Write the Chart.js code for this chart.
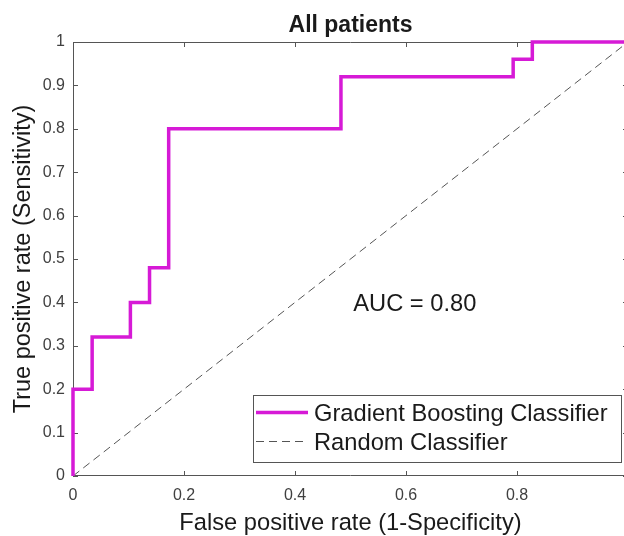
<!DOCTYPE html>
<html>
<head>
<meta charset="utf-8">
<script src="https://cdn.jsdelivr.net/npm/chart.js@4/dist/chart.umd.min.js"></script>
<style>
  html, body { margin: 0; padding: 0; background: #fff; overflow: hidden; }
  #wrap { width: 630px; height: 536px; }
</style>
</head>
<body>
<div id="wrap"><canvas id="c" width="630" height="536"></canvas></div>
<script>
// ---- data ----
const chartTitle = 'All patients';
const xTitle = 'False positive rate (1-Specificity)';
const yTitle = 'True positive rate (Sensitivity)';
const rocLabel = 'Gradient Boosting Classifier';
const randLabel = 'Random Classifier';
const aucText = 'AUC = 0.80';
const aucPos = [0.505, 0.395];
const rocFPR = [0, 0, 0.0345, 0.0345, 0.1034, 0.1034, 0.1379, 0.1379, 0.1724, 0.1724, 0.4828, 0.4828, 0.7931, 0.7931, 0.8276, 0.8276, 1];
const rocTPR = [0, 0.2, 0.2, 0.32, 0.32, 0.4, 0.4, 0.48, 0.48, 0.8, 0.8, 0.92, 0.92, 0.96, 0.96, 1, 1];
const randFPR = [0, 1];
const randTPR = [0, 1];
const xTicks = [0, 0.2, 0.4, 0.6, 0.8, 1];
const yTicks = [0, 0.1, 0.2, 0.3, 0.4, 0.5, 0.6, 0.7, 0.8, 0.9, 1];

// ---- styles ----
const FONT = "'Liberation Sans', Arial, Helvetica, sans-serif";
const MAGENTA = '#d61ad6';
const AXIS = '#555555';
const TEXT = '#1a1a1a';

const toPts = (xs, ys) => xs.map((x, i) => ({ x: x, y: ys[i] }));

const decorPlugin = {
  id: 'decor',
  beforeDatasetsDraw(chart) {
    const { ctx, chartArea: a, scales } = chart;
    const xs = scales.x, ys = scales.y;
    ctx.save();
    ctx.strokeStyle = AXIS;
    ctx.lineWidth = 1;
    ctx.beginPath();
    ctx.rect(a.left + 0.5, a.top + 0.5, a.right - a.left - 1, a.bottom - a.top - 1);
    ctx.stroke();
    const tl = 5;
    ctx.beginPath();
    xTicks.forEach(v => {
      const px = Math.round(xs.getPixelForValue(v)) + 0.5;
      ctx.moveTo(px, a.bottom); ctx.lineTo(px, a.bottom - tl);
      ctx.moveTo(px, a.top); ctx.lineTo(px, a.top + tl);
    });
    yTicks.forEach(v => {
      const py = Math.round(ys.getPixelForValue(v)) + 0.5;
      ctx.moveTo(a.left, py); ctx.lineTo(a.left + tl, py);
      ctx.moveTo(a.right, py); ctx.lineTo(a.right - tl, py);
    });
    ctx.stroke();
    ctx.restore();
  },
  afterDatasetsDraw(chart) {
    const { ctx, chartArea: a, scales } = chart;
    const xs = scales.x, ys = scales.y;
    ctx.save();
    // title
    ctx.fillStyle = TEXT;
    ctx.font = 'bold 23px ' + FONT;
    ctx.textAlign = 'center';
    ctx.textBaseline = 'middle';
    ctx.fillText(chartTitle, (a.left + a.right) / 2, a.top - 16);
    // AUC annotation
    ctx.font = '23.7px ' + FONT;
    ctx.textAlign = 'left';
    ctx.fillText(aucText, xs.getPixelForValue(aucPos[0]), ys.getPixelForValue(aucPos[1]));
    // legend
    const lx = 253, ly = 395, lw = 369, lh = 68;
    ctx.fillStyle = '#ffffff';
    ctx.fillRect(lx, ly, lw, lh);
    ctx.strokeStyle = AXIS;
    ctx.lineWidth = 1;
    ctx.strokeRect(lx + 0.5, ly + 0.5, lw - 1, lh - 1);
    const dsets = chart.data.datasets;
    const rows = [ly + 19, ly + 48];
    dsets.forEach((d, i) => {
      const y = rows[i];
      ctx.beginPath();
      ctx.strokeStyle = d.borderColor;
      ctx.lineWidth = d.borderWidth;
      ctx.setLineDash(d.borderDash || []);
      ctx.moveTo(lx + 3, y - 1.5); ctx.lineTo(lx + 55, y - 1.5);
      ctx.stroke();
      ctx.setLineDash([]);
      ctx.fillStyle = TEXT;
      ctx.font = '23.7px ' + FONT;
      ctx.textAlign = 'left';
      ctx.textBaseline = 'middle';
      ctx.fillText(d.label, lx + 61, y);
    });
    ctx.restore();
  }
};

new Chart(document.getElementById('c'), {
  type: 'scatter',
  data: {
    datasets: [
      {
        label: rocLabel,
        data: toPts(rocFPR, rocTPR),
        showLine: true,
        borderColor: MAGENTA,
        backgroundColor: MAGENTA,
        borderWidth: 3.5,
        pointRadius: 0,
        tension: 0,
        fill: false,
        clip: 6
      },
      {
        label: randLabel,
        data: toPts(randFPR, randTPR),
        showLine: true,
        borderColor: '#555555',
        backgroundColor: '#555555',
        borderWidth: 1,
        borderDash: [8, 5],
        pointRadius: 0,
        fill: false
      }
    ]
  },
  options: {
    responsive: false,
    animation: false,
    devicePixelRatio: 1,
    layout: { padding: { left: 0, right: 2, top: 42, bottom: 0 } },
    plugins: { legend: { display: false }, title: { display: false }, tooltip: { enabled: false } },
    scales: {
      x: {
        type: 'linear', min: 0, max: 1,
        afterFit(s) { s.height = 60; s.paddingLeft = 0; s.paddingRight = 0; },
        afterBuildTicks(s) { s.ticks = xTicks.map(v => ({ value: v })); },
        grid: { display: false, drawTicks: false },
        border: { display: false },
        ticks: { padding: 10, color: '#404040', font: { family: FONT, size: 16 },
                 callback: v => String(v) },
        title: { display: true, text: xTitle, color: TEXT,
                 font: { family: FONT, size: 23.7, lineHeight: 1 }, padding: { top: 0, bottom: 0.5 } }
      },
      y: {
        type: 'linear', min: 0, max: 1,
        afterFit(s) { s.width = 73; s.paddingTop = 0; s.paddingBottom = 0; },
        afterBuildTicks(s) { s.ticks = yTicks.map(v => ({ value: v })); },
        grid: { display: false, drawTicks: false },
        border: { display: false },
        ticks: { padding: 8, color: '#404040', font: { family: FONT, size: 16 },
                 callback: v => String(v) },
        title: { display: true, text: yTitle, color: TEXT,
                 font: { family: FONT, size: 23.5, lineHeight: 1 }, padding: { top: 12, bottom: 0 } }
      }
    }
  },
  plugins: [decorPlugin]
});
</script>
</body>
</html>
